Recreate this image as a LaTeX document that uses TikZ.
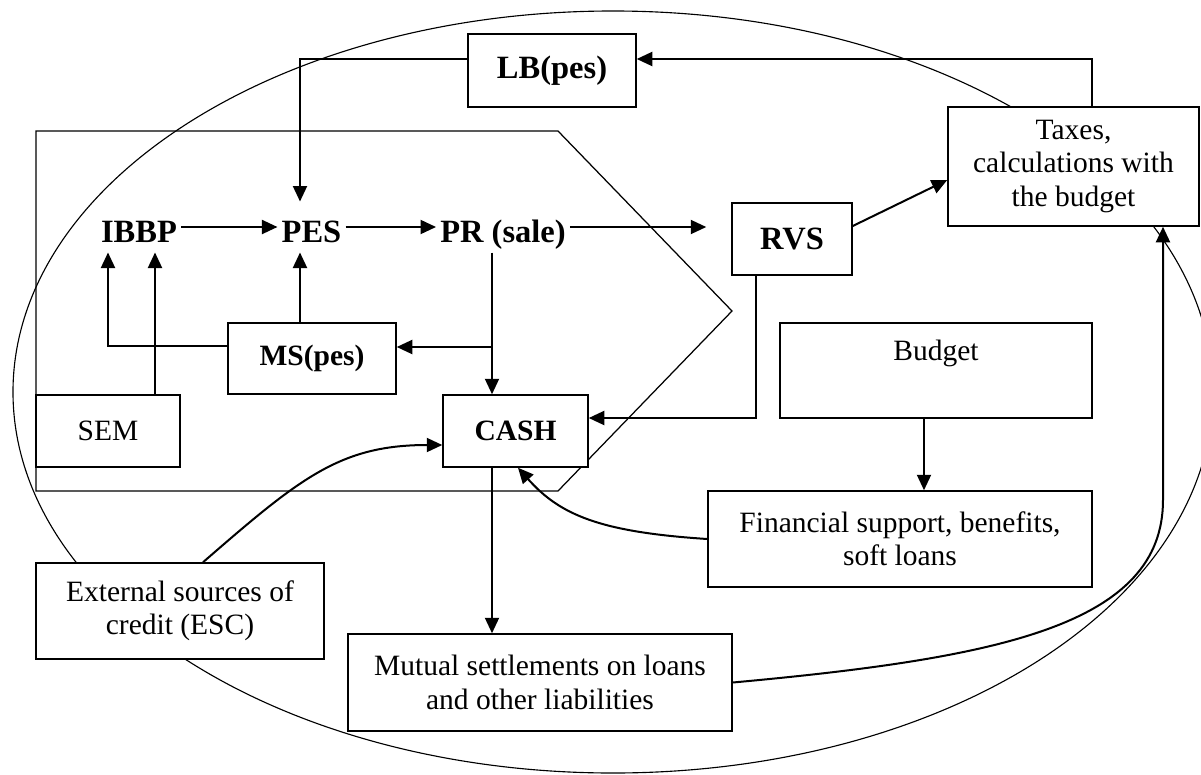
\documentclass[tikz,border=0pt]{standalone}
\usepackage{fontspec}
\setmainfont{Liberation Serif}
\usetikzlibrary{calc,arrows.meta}
\newcommand{\rmtext}{\fontsize{11.8}{13.3}\selectfont}
\newcommand{\bftext}{\fontsize{13}{15}\selectfont\bfseries}
\tikzset{
  sz/.style 2 args={minimum width=#1*0.4pt, minimum height=#2*0.4pt},
  box/.style={draw, line width=0.6pt, fill=white, inner sep=0pt, align=center, font=\rmtext},
  tag/.style={inner xsep=1.5pt, inner ysep=4pt, text height=12pt, text depth=0pt, font=\bftext},
  arr/.style={line width=0.8pt, -{Triangle[length=6.2pt,width=5.6pt]}},
}

\begin{document}
\begin{tikzpicture}[x=0.4pt,y=-0.4pt]
\useasboundingbox (0,0) rectangle (1201,774);
\draw[line width=0.45pt] (613,392) ellipse [x radius=240pt, y radius=152.4pt];
\draw[line width=0.5pt] (36,131)--(558,131)--(732,311)--(558,491)--(36,491)--cycle;

\node[box, sz={168}{73}, font=\bftext] (LB) at (552,70.5) {LB(pes)};
\node[box, sz={251}{119}] (TX) at (1073.5,166.5) {Taxes,\\calculations with\\the budget};
\node[box, sz={120}{72}, font=\bftext] (RVS) at (792,239) {RVS};
\node[box, sz={168}{71}, font=\rmtext\bfseries] (MS) at (312,358.5) {MS(pes)};
\node[box, sz={144}{72}] (SEM) at (108,431) {SEM};
\node[box, sz={145}{72}, font=\rmtext\bfseries] (CASH) at (515.5,431) {CASH};
\node[box, sz={312}{95}, text depth=16pt] (BUD) at (936,370.5) {Budget};
\node[box, sz={384}{96}] (FIN) at (900,539) {Financial support, benefits,\\soft loans};
\node[box, sz={288}{96}] (ESC) at (180,611) {External sources of\\credit (ESC)};
\node[box, sz={384}{97}] (MUT) at (540,682.5) {Mutual settlements on loans\\and other liabilities};

\node[tag] (IBBP) at (139,227) {IBBP};
\node[tag] (PES) at (311.5,227) {PES};
\node[tag] (PR) at (503,227) {PR (sale)};

\draw[arr] (IBBP) -- (PES);
\draw[arr] (PES) -- (PR);
\draw[arr, shorten >=10pt] (PR.east) -- (PR.east -| RVS.west);
\draw[arr] ($(TX.north)+(18.5,0)$) |- ($(LB.east)+(0,-11.5)$);
\draw[arr] ($(LB.west)+(0,-11.5)$) -| ($(PES.north)+(-11.5,0)$);
\draw[arr] ($(MS.north)+(-12,0)$) -- ($(PES.south)+(-11.5,0)$);
\draw[arr] ($(MS.west)+(0,-12.5)$) -| ($(IBBP.south)+(-31,0)$);
\draw[arr] ($(SEM.north)+(47,0)$) -- ($(IBBP.south)+(16,0)$);
\draw[arr] ($(PR.south)+(-11,0)$) coordinate (pr0) -- (pr0 |- CASH.north);
\coordinate (ms1) at ($(MS.east)+(0,-11.5)$);
\draw[arr] (pr0 |- ms1) -- (ms1);
\draw[arr] ($(RVS.south)+(-36,0)$) |- ($(CASH.east)+(0,-13)$);
\draw[arr] ($(RVS.east)+(0,-13)$) -- ($(TX.west)+(0,13.5)$);
\draw[arr] ($(BUD.south)+(-12,0)$) coordinate (b0) -- (b0 |- FIN.north);
\draw[arr] ($(CASH.south)+(-23.5,0)$) coordinate (c0) -- (c0 |- MUT.north);
\draw[arr] (FIN.west) .. controls (600,532) and (560,515) .. ($(CASH.south)+(2.5,0)$);
\draw[arr] ($(ESC.north)+(23,0)$) .. controls (300,478) and (340,445) .. ($(CASH.west)+(0,14)$);
\draw[arr] (MUT.east) .. controls (1000,658) and (1163,625) .. (1163,500) -- ($(TX.south)+(89.5,0)$);
\end{tikzpicture}
\end{document}
